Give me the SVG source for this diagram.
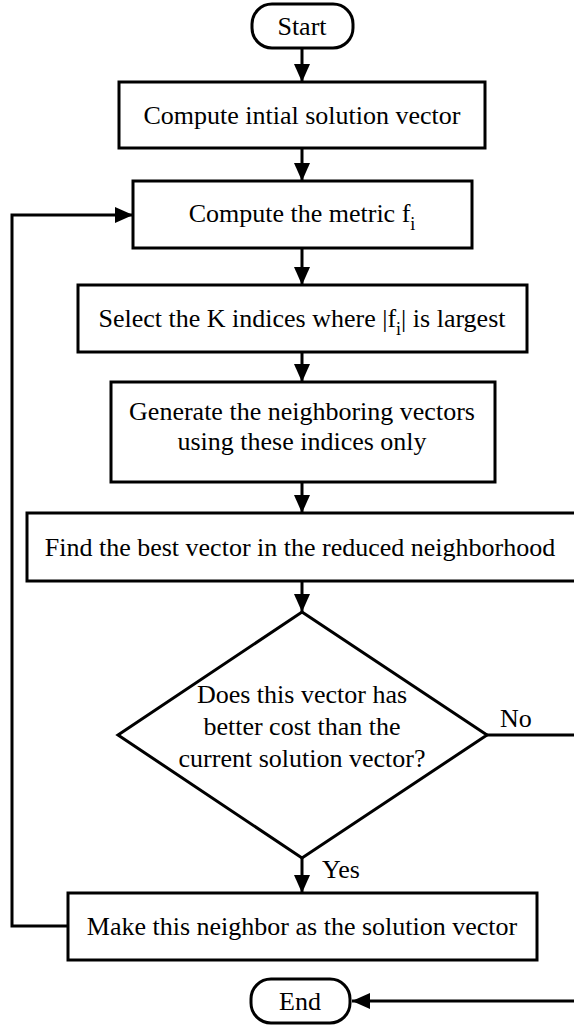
<svg xmlns="http://www.w3.org/2000/svg" width="574" height="1028" viewBox="0 0 574 1028">
<style>
.shape{fill:#fff;stroke:#000;stroke-width:3}
.conn{fill:none;stroke:#000;stroke-width:3}
text{font-family:"Liberation Serif",Tinos,"Times New Roman",Times,"Noto Serif","DejaVu Serif",serif;font-size:26px;fill:#000;text-anchor:middle}
.lbl{text-anchor:start}
.sub{font-size:18px}
</style>
<defs>
<marker id="ah" markerUnits="userSpaceOnUse" markerWidth="20" markerHeight="18" refX="18" refY="8" orient="auto">
<path d="M0,0 L18,8 L0,16 Z" fill="#000"/>
</marker>
</defs>
<rect width="574" height="1028" fill="#fff"/>
<g id="connectors">
<line class="conn" x1="302" y1="48" x2="302" y2="82" marker-end="url(#ah)"/>
<line class="conn" x1="302" y1="148" x2="302" y2="181" marker-end="url(#ah)"/>
<line class="conn" x1="302" y1="248" x2="302" y2="285" marker-end="url(#ah)"/>
<line class="conn" x1="302" y1="352" x2="302" y2="382" marker-end="url(#ah)"/>
<line class="conn" x1="302" y1="482" x2="302" y2="513" marker-end="url(#ah)"/>
<line class="conn" x1="302" y1="581" x2="302" y2="612" marker-end="url(#ah)"/>
<line class="conn" x1="302" y1="858" x2="302" y2="893" marker-end="url(#ah)"/>
<path class="conn" d="M487,735 H580 V1001 H352" marker-end="url(#ah)"/>
<path class="conn" d="M68,926 H12 V215 H133" marker-end="url(#ah)"/>
<text class="lbl" x="500" y="727" font-family="Liberation Serif, serif">No</text>
<text class="lbl" x="322" y="878" font-family="Liberation Serif, serif">Yes</text>
</g>
<g id="start">
<rect class="shape" x="252" y="4" width="101" height="44" rx="20"/>
<text x="302" y="35" font-family="Liberation Serif, serif">Start</text>
</g>
<g id="init">
<rect class="shape" x="119" y="82" width="366" height="66"/>
<text x="302" y="124" font-family="Liberation Serif, serif">Compute intial solution vector</text>
</g>
<g id="metric">
<rect class="shape" x="133" y="181" width="339" height="67"/>
<text x="302" y="222" font-family="Liberation Serif, serif">Compute the metric f<tspan class="sub" dy="8">i</tspan></text>
</g>
<g id="select">
<rect class="shape" x="78" y="285" width="449" height="67"/>
<text x="302" y="327" font-family="Liberation Serif, serif">Select the K indices where |f<tspan class="sub" dy="8">i</tspan><tspan dy="-8">| is largest</tspan></text>
</g>
<g id="generate">
<rect class="shape" x="111" y="382" width="384" height="100"/>
<text x="302" y="420" font-family="Liberation Serif, serif">Generate the neighboring vectors</text>
<text x="302" y="450" font-family="Liberation Serif, serif">using these indices only</text>
</g>
<g id="find">
<rect class="shape" x="27" y="513" width="560" height="68"/>
<text x="300" y="556" font-family="Liberation Serif, serif">Find the best vector in the reduced neighborhood</text>
</g>
<g id="decision">
<polygon class="shape" points="302,612 487,735 302,858 118,735"/>
<text x="302" y="703" font-family="Liberation Serif, serif">Does this vector has</text>
<text x="302" y="735" font-family="Liberation Serif, serif">better cost than the</text>
<text x="302" y="767" font-family="Liberation Serif, serif">current solution vector?</text>
</g>
<g id="make">
<rect class="shape" x="68" y="893" width="469" height="67"/>
<text x="302" y="935" font-family="Liberation Serif, serif">Make this neighbor as the solution vector</text>
</g>
<g id="end">
<rect class="shape" x="251" y="979" width="99" height="44" rx="20"/>
<text x="300" y="1010" font-family="Liberation Serif, serif">End</text>
</g>
</svg>
